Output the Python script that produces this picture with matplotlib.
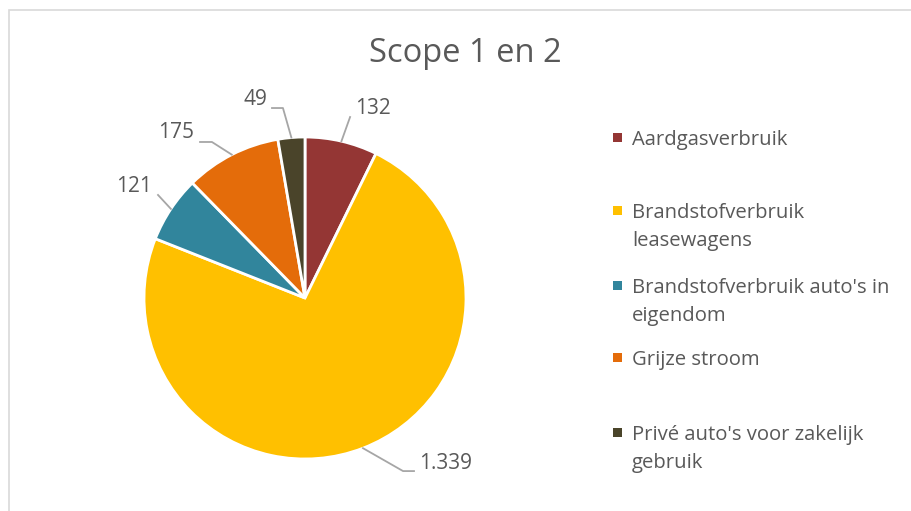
"""Scope 1 en 2 - pie chart of CO2 emissions per source"""

import numpy as np
import matplotlib.pyplot as plt
from matplotlib.patches import Rectangle

categories = [
    "Aardgasverbruik",
    "Brandstofverbruik\nleasewagens",
    "Brandstofverbruik auto's in\neigendom",
    "Grijze stroom",
    "Privé auto's voor zakelijk\ngebruik",
]
values = [132, 1339, 121, 175, 49]
value_labels = ["132", "1.339", "121", "175", "49"]
colors = ["#943634", "#FFC000", "#31859C", "#E46C0A", "#4A442A"]

TEXT = "#595959"
LINE = "#A6A6A6"
FONT = ["Open Sans", "DejaVu Sans"]

# label layout, in pie radii relative to the centre:
# (text x, text y, elbow x, elbow y, end x, end y)
label_layout = [
    (0.42, 1.18, 0.28, 1.124, 0.28, 1.124),
    (0.87, -1.03, 0.609, -1.075, 0.677, -1.075),
    (-1.06, 0.69, -0.913, 0.64, -0.913, 0.64),
    (-0.80, 1.025, -0.578, 0.969, -0.652, 0.969),
    (-0.31, 1.23, -0.137, 1.18, -0.205, 1.18),
]


def main():
    W, H = 912, 511
    fig = plt.figure(figsize=(W / 100, H / 100), dpi=100)
    fig.patch.set_facecolor("white")

    # chart area border (runs off the right and bottom edge)
    fig.patches.append(Rectangle((9 / W, -0.1), 1.2, (H - 9.5) / H + 0.1,
                                 transform=fig.transFigure, fill=False,
                                 edgecolor="#D9D9D9", linewidth=1.2))

    cx, cy, r = 305, 298, 161
    half = 1.5 * r
    ax = fig.add_axes([(cx - half) / W, (H - cy - half) / H, 2 * half / W, 2 * half / H])
    wedges, _ = ax.pie(values, colors=colors, startangle=90, counterclock=False,
                       radius=1, wedgeprops=dict(edgecolor="white", linewidth=2))
    ax.set_xlim(-1.5, 1.5)
    ax.set_ylim(-1.5, 1.5)
    ax.set_aspect("equal")
    ax.axis("off")

    for w, lab, (tx, ty, ex, ey, nx, ny) in zip(wedges, value_labels, label_layout):
        mid = np.deg2rad((w.theta1 + w.theta2) / 2)
        px, py = np.cos(mid), np.sin(mid)
        ax.plot([px, ex, nx], [py, ey, ny], color=LINE, lw=1.3, clip_on=False)
        ax.text(tx, ty, lab, ha="center", va="center", fontsize=15,
                color=TEXT, family=FONT)

    fig.text(465 / W, 1 - 54 / H, "Scope 1 en 2", ha="center", va="center",
             fontsize=23.5, color=TEXT, family=FONT)

    # legend, drawn by hand like Excel spreads it
    legend_y = [138, 211, 286, 358, 433]
    for y, label, c in zip(legend_y, categories, colors):
        fig.patches.append(Rectangle((613 / W, 1 - (y + 4) / H), 9 / W, 9 / H,
                                     transform=fig.transFigure, facecolor=c,
                                     edgecolor="none"))
        fig.text(632 / W, 1 - (y - 8) / H, label, ha="left", va="top",
                 fontsize=14.6, color=TEXT, family=FONT, linespacing=1.55)

    fig.savefig("out.png", dpi=100)


if __name__ == "__main__":
    main()
